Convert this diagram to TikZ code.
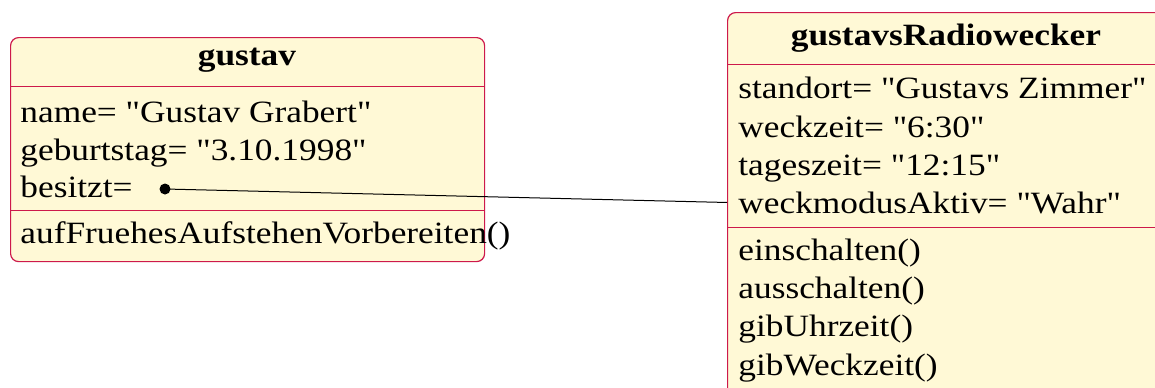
\documentclass[tikz,border=0pt]{standalone}
\usepackage{fontspec}
\setmainfont{Liberation Serif}[Ligatures=TeXOff, FakeStretch=1.14]
\usetikzlibrary{positioning}

\definecolor{objfill}{RGB}{255,249,214}
\definecolor{objline}{RGB}{205,25,75}

\begin{document}
\begin{tikzpicture}[x=0.5pt, y=-0.5pt,
      objbox/.style={rectangle, rounded corners=4pt, draw=objline, fill=objfill, anchor=north west, inner sep=0pt, line width=0.6pt},
      objname/.style={font=\fontsize{15.5}{18}\selectfont\bfseries, anchor=base, inner sep=0pt},
      member/.style={font=\fontsize{15.5}{18}\selectfont, anchor=base west, inner sep=0pt},
      divider/.style={draw=objline, line width=0.5pt},
      link/.style={draw=black, line width=0.5pt}]

      \useasboundingbox (0,0) rectangle (1155,387);
      \clip (0,0) rectangle (1155,387);

      % Objects
      \node[objbox, minimum width=237pt, minimum height=112pt] (gustav) at (10,37) {};
      \node[objbox, minimum width=219pt, minimum height=204pt] (wecker) at (727,12) {};

      \draw[divider] (gustav.north west) ++(0,49) -- ++(474,0);
      \draw[divider] (gustav.north west) ++(0,173) -- ++(474,0);
      \draw[divider] (wecker.north west) ++(0,52) -- ++(438,0);
      \draw[divider] (wecker.north west) ++(0,215) -- ++(438,0);

      % gustav
      \node[objname] (gname) at (247,65) {gustav};
      \node[member] (name) at (20,122) {name= "Gustav Grabert"};
      \node[member] (geb) at (20,160) {geburtstag= "3.10.1998"};
      \node[member] (besitzt) at (20,197) {besitzt=};
      \node[member] (auf) at (20,243) {aufFruehesAufstehenVorbereiten()};

      % gustavsRadiowecker
      \node[objname] (wname) at (946,45) {gustavsRadiowecker};
      \node[member] (standort) at (738,98) {standort= "Gustavs Zimmer"};
      \node[member] (weckzeit) at (738,137) {weckzeit= "6:30"};
      \node[member] (tageszeit) at (738,175) {tageszeit= "12:15"};
      \node[member] (weckmodus) at (738,213) {weckmodusAktiv= "Wahr"};
      \foreach \m [count=\i] in {einschalten(), ausschalten(), gibUhrzeit(), gibWeckzeit()} {
        \node[member] (op\i) at (738,222+38.3*\i) {\m};
      }

      % Link
      \node[circle, fill=black, inner sep=0pt, minimum size=5.5pt] (dot) at (165,189) {};
      \draw[link] (dot.center) -- (weckmodus.west -| wecker.west);
    \end{tikzpicture}
\end{document}
